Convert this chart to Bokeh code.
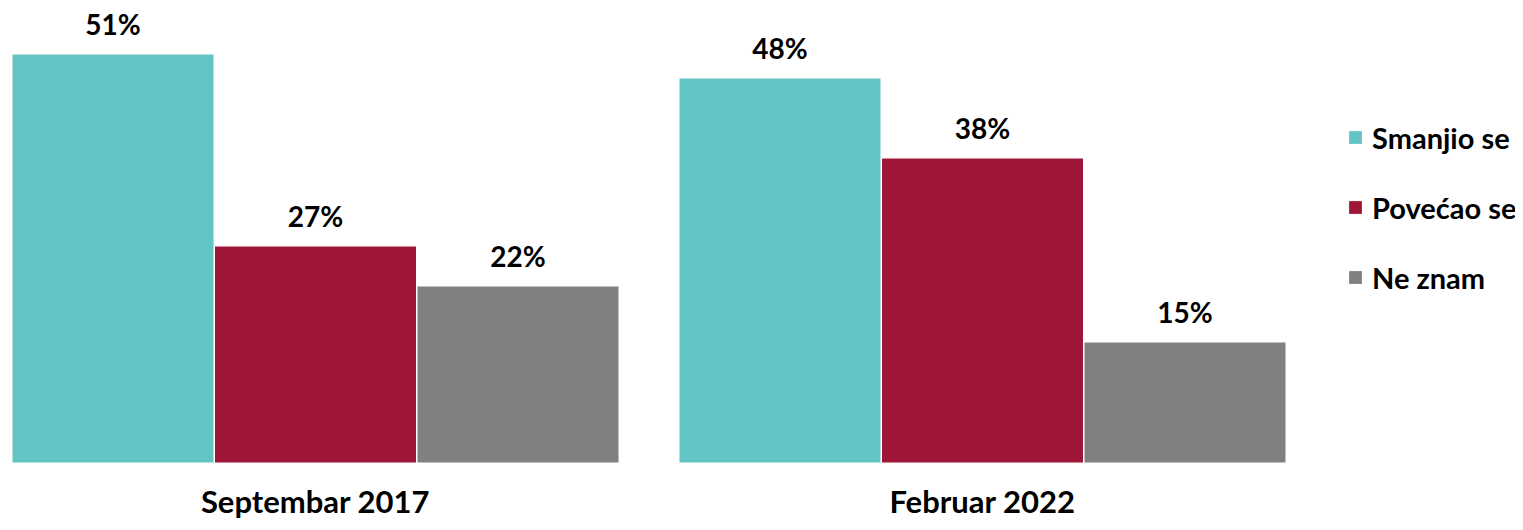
from bokeh.plotting import figure
from bokeh.models import Range1d, ColumnDataSource, Legend, LegendItem
from bokeh.core.properties import value
from bokeh.embed import file_html
from bokeh.resources import INLINE

groups = ["Septembar 2017", "Februar 2022"]
series = ["Smanjio se", "Povećao se", "Ne znam"]
smanjio = [51, 48]
povecao = [27, 38]
ne_znam = [22, 15]
colors = ["#63C5C3", "#A01638", "#808080"]

FONT = "Lato"
W, H = 1515, 522
BASE = 462      # pixel row of the zero line
PX_PER_PCT = 8
p = figure(width=W, height=H, output_backend="svg", toolbar_location=None,
           x_range=Range1d(0, W),
           y_range=Range1d((BASE - H) / PX_PER_PCT, BASE / PX_PER_PCT),
           min_border=0, outline_line_color=None)
p.xaxis.visible = False
p.yaxis.visible = False
p.grid.visible = False

first_center = 112.5
bar_step = 202.5
group_step = 667.0
bar_w = 201

renderers = []
for s, (name, vals, col) in enumerate(zip(series, [smanjio, povecao, ne_znam], colors)):
    xs = [first_center + g * group_step + s * bar_step for g in range(len(groups))]
    src = ColumnDataSource(dict(x=xs, top=vals, lab=[f"{v}%" for v in vals]))
    r = p.vbar(x="x", top="top", bottom=0, width=bar_w, source=src,
               fill_color=col, line_color=None)
    renderers.append((name, r))
    p.text(x="x", y="top", text="lab", source=src, text_align="center",
           text_baseline="middle", y_offset=-31,
           text_font=value(FONT), text_font_style="bold",
           text_font_size="28px", text_color="#000000")

gx = [first_center + g * group_step + bar_step for g in range(len(groups))]
label_y = (BASE - 500) / PX_PER_PCT
p.text(x=gx, y=[label_y] * len(groups), text=groups, text_align="center",
       text_baseline="middle", text_font=value(FONT), text_font_style="bold",
       text_font_size="31px", text_color="#000000")

legend = Legend(items=[LegendItem(label=n, renderers=[r]) for n, r in renderers],
                location=(1347, 225), orientation="vertical",
                glyph_width=16, glyph_height=16, label_standoff=9,
                label_height=40, spacing=30, padding=0, margin=0,
                border_line_color=None, background_fill_alpha=0,
                label_text_font=FONT, label_text_font_style="bold",
                label_text_font_size="29px", label_text_color="#000000")
p.add_layout(legend)

open("out.html", "w").write(file_html(p, INLINE))
